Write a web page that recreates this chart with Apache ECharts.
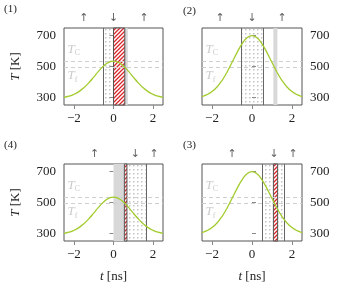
<!DOCTYPE html>
<html><head><meta charset="utf-8">
<script src="https://cdn.jsdelivr.net/npm/echarts@6/dist/echarts.min.js"></script>
<style>html,body{margin:0;padding:0;background:#fff}#c{width:338px;height:290px}</style>
</head><body><div id="c"></div>
<script>
// ---- data ----
const tValues = [-2.5,-2.25,-2,-1.75,-1.5,-1.25,-1,-0.75,-0.5,-0.25,0,0.25,0.5,0.75,1,1.25,1.5,1.75,2,2.25,2.5];
const tempLow  = [300,307,319,337,362,394,431,470,503,527,535,527,503,470,431,394,362,337,319,307,300];
const tempHigh = [305,317,337,367,409,463,526,590,647,686,700,686,647,590,526,463,409,367,337,317,305];
const xTicks = [-2, 0, 2];
const yTicks = [300, 500, 700];
const tempC = 537;
const tempF = 494;
const panelNames = ['(1)', '(2)', '(4)', '(3)'];
// bands per panel: [start, end]
const p1Dotted = [[-0.53, 0]];
const p1Hatched = [[0, 0.57]];
const p1Gray = [[0.57, 0.72]];
const p1Lines = [-0.53];
const p1Arrows = [[-1.5, '↑'], [0, '↓'], [1.55, '↑']];

const p2Dotted = [[-0.52, 0.54]];
const p2Hatched = [];
const p2Gray = [[1.07, 1.27]];
const p2Lines = [-0.52, 0.54];
const p2Arrows = [[-1.6, '↑'], [0, '↓'], [1.5, '↑']];

const p4Dotted = [[0.55, 1.63]];
const p4Hatched = [[0.55, 0.68]];
const p4Gray = [[0, 0.55]];
const p4Lines = [0.55, 1.63];
const p4Arrows = [[-0.95, '↑'], [1.1, '↓'], [2.05, '↑']];

const p3Dotted = [[0.52, 1.63]];
const p3Hatched = [[1.07, 1.28]];
const p3Gray = [];
const p3Lines = [0.52, 1.63];
const p3Arrows = [[-1, '↑'], [1.1, '↓'], [2.05, '↑']];

// ---- patterns ----
function dotPattern(){
  const c=document.createElement('canvas'); c.width=4; c.height=4;
  const g=c.getContext('2d'); g.clearRect(0,0,4,4);
  g.fillStyle='rgba(150,150,150,0.55)'; g.fillRect(1,1,1.5,1.5); return c;
}
function hatchPattern(){
  const c=document.createElement('canvas'); c.width=4; c.height=4;
  const g=c.getContext('2d'); g.fillStyle='#fff'; g.fillRect(0,0,4,4);
  g.strokeStyle='#d9262a'; g.lineWidth=1.3;
  g.beginPath(); g.moveTo(-1,5); g.lineTo(5,-1); g.moveTo(-1,1); g.lineTo(1,-1); g.moveTo(3,5); g.lineTo(5,3); g.stroke();
  return c;
}
const DOT = {image: dotPattern(), repeat: 'repeat'};
const HATCH = {image: hatchPattern(), repeat: 'repeat'};

const FONT = 'Liberation Serif, DejaVu Serif, serif';
const chart = echarts.init(document.getElementById('c'), null, {renderer: 'canvas'});

const panels = [
  {left: 64, top: 28, width: 99, curve: tempLow, dotted: p1Dotted, hatched: p1Hatched, gray: p1Gray, lines: p1Lines, arrows: p1Arrows, ypos: 'left', xname: false},
  {left: 202, top: 28, width: 100, curve: tempHigh, dotted: p2Dotted, hatched: p2Hatched, gray: p2Gray, lines: p2Lines, arrows: p2Arrows, ypos: 'right', xname: false},
  {left: 64, top: 164, width: 99, curve: tempLow, dotted: p4Dotted, hatched: p4Hatched, gray: p4Gray, lines: p4Lines, arrows: p4Arrows, ypos: 'left', xname: true},
  {left: 202, top: 164, width: 100, curve: tempHigh, dotted: p3Dotted, hatched: p3Hatched, gray: p3Gray, lines: p3Lines, arrows: p3Arrows, ypos: 'right', xname: true}
];
const panelLabelPos = [[4, 4], [183, 6], [4, 140], [183, 140]];

const grid=[], xAxis=[], yAxis=[], series=[], graphic=[];
panels.forEach((p, i) => {
  grid.push({left: p.left, top: p.top, width: p.width, height: 77, show: true, borderColor: '#555', borderWidth: 1, backgroundColor: 'transparent'});
  xAxis.push({
    type: 'value', gridIndex: i, min: -2.5, max: 2.5,
    axisLine: {show: false}, splitLine: {show: false},
    axisTick: {show: true, customValues: xTicks, length: 4, lineStyle: {color: '#888'}},
    axisLabel: {customValues: xTicks, fontFamily: FONT, fontSize: 13, color: '#222', margin: 7,
      formatter: v => String(v).replace('-', '−')},
    name: p.xname ? '{i|t} [ns]' : '', nameLocation: 'middle', nameGap: 29,
    nameTextStyle: {fontFamily: FONT, fontSize: 13, color: '#222', rich: {i: {fontStyle: 'italic', fontFamily: FONT, fontSize: 13, color: '#222'}}}
  });
  yAxis.push({
    type: 'value', gridIndex: i, min: 250, max: 750, position: p.ypos,
    axisLine: {show: false}, splitLine: {show: false},
    axisTick: {show: true, customValues: yTicks, length: 4, lineStyle: {color: '#888'}},
    axisLabel: {customValues: yTicks, fontFamily: FONT, fontSize: 13, color: '#222', margin: 8},
    name: p.ypos === 'left' ? '{i|T} [K]' : '', nameLocation: 'middle', nameGap: 42, nameRotate: 90,
    nameTextStyle: {fontFamily: FONT, fontSize: 13, color: '#222', rich: {i: {fontStyle: 'italic', fontFamily: FONT, fontSize: 13, color: '#222'}}}
  });
  const areas = [];
  p.gray.forEach(b => areas.push([{xAxis: b[0], itemStyle: {color: '#d8d8d8', borderWidth: 0}}, {xAxis: b[1]}]));
  p.dotted.forEach(b => areas.push([{xAxis: b[0], itemStyle: {color: DOT, borderWidth: 0}}, {xAxis: b[1]}]));
  p.hatched.forEach(b => areas.push([{xAxis: b[0], itemStyle: {color: HATCH, borderColor: '#555', borderWidth: 1}}, {xAxis: b[1]}]));
  series.push({
    type: 'line', xAxisIndex: i, yAxisIndex: i, data: [], z: 1, silent: true,
    markArea: {silent: true, data: areas, label: {show: false}}
  });
  const mlines = [
    {yAxis: tempC, lineStyle: {color: '#cfcfcf', type: [4, 3], width: 1.2}},
    {yAxis: tempF, lineStyle: {color: '#cfcfcf', type: [4, 3], width: 1.2}}
  ];
  p.lines.forEach(x => mlines.push({xAxis: x, lineStyle: {color: '#666', type: 'solid', width: 1}}));
  series.push({
    type: 'line', xAxisIndex: i, yAxisIndex: i, data: [], z: 2, silent: true,
    markLine: {silent: true, symbol: 'none', label: {show: false}, data: mlines, animation: false}
  });
  series.push({
    type: 'line', xAxisIndex: i, yAxisIndex: i, z: 5, smooth: true, showSymbol: false, silent: true,
    data: tValues.map((t, k) => [t, p.curve[k]]),
    lineStyle: {color: '#a2cc2e', width: 1.3}
  });
  series.push({
    type: 'scatter', xAxisIndex: i, yAxisIndex: i, z: 6, silent: true, symbolSize: 0, clip: false,
    data: [[-2.32, 608, 'C'], [-2.32, 438, 'f']],
    label: {show: true, position: 'inside', align: 'left', formatter: d => '{i|T}{s|' + d.data[2] + '}',
      rich: {i: {fontFamily: FONT, fontStyle: 'italic', fontSize: 13, color: '#bdbdbd'},
             s: {fontFamily: FONT, fontSize: 8, color: '#bdbdbd', padding: [7, 0, 0, 0]}}}
  });
  series.push({
    type: 'scatter', xAxisIndex: i, yAxisIndex: i, z: 6, silent: true, symbolSize: 0, clip: false,
    data: p.arrows.map(a => [a[0], 815, a[1]]),
    label: {show: true, position: 'inside', formatter: d => d.data[2], fontFamily: 'DejaVu Sans', fontSize: 11, color: '#333'}
  });
  graphic.push({type: 'text', left: panelLabelPos[i][0], top: panelLabelPos[i][1],
    style: {text: panelNames[i], font: '11px ' + FONT, fill: '#222'}});
});

chart.setOption({animation: false, grid, xAxis, yAxis, series, graphic});
</script></body></html>
